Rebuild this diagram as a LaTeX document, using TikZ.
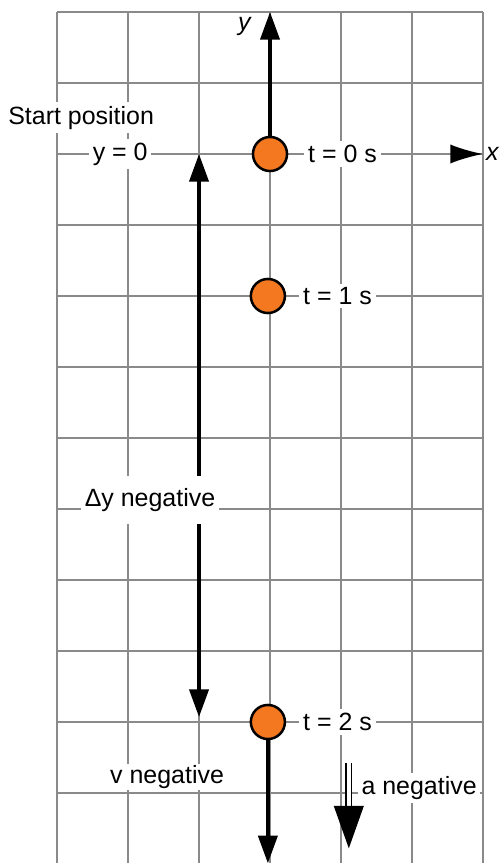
\documentclass[tikz,border=0pt]{standalone}
\usepackage{fontspec}
\setmainfont{Liberation Sans}
\usepackage{xcolor}
\usetikzlibrary{positioning,arrows.meta}
\definecolor{ballorange}{HTML}{F47820}
\definecolor{gridgray}{HTML}{8A8A8A}

\begin{document}
\begin{tikzpicture}
    [gridline/.style={draw=gridgray, line width=0.8pt},
    axis/.style={draw=black, line width=1.4pt},
    tip/.style={-{Triangle[length=0.39cm, width=0.27cm]}},
    accel/.style={draw=black, line width=0.6pt, double=white, double distance=1.6pt,
        -{Triangle[length=0.6cm, width=0.42cm]}},
    ball/.style={circle, draw=black, line width=1pt, fill=ballorange, minimum size=0.48cm, inner sep=0pt},
    lbl/.style={fill=white, inner sep=1.5pt, font=\fontsize{10}{12}\selectfont}]
    \useasboundingbox (-3.803,-9.986) rectangle (3.268,2.169);
        %% grid
    \foreach \x in {-3,...,3}
        \draw[gridline] (\x,2) -- (\x,-10);
    \foreach \y in {2,1,...,-9}
        \draw[gridline] (-3,\y) -- (3,\y);

        %% positions
    \node[ball] (B0) at (0,0) {};
    \node[ball] (B1) at (-0.03,-2) {};
    \node[ball] (B2) at (-0.03,-8) {};
    \node[lbl, right=0.22cm of B0] (T0) {t = 0 s};
    \node[lbl, right=0.18cm of B1] (T1) {t = 1 s};
    \node[lbl, right=0.18cm of B2] (T2) {t = 2 s};

        %% axes
    \coordinate (ytip) at (0,2);
    \coordinate (xtip) at (3,0);
    \draw[axis, tip] (B0) -- (ytip);
    \draw[gridline, -{Latex[black, length=0.46cm, width=0.27cm]}] (T0) -- (xtip);
    \node[lbl, fill=none, font=\fontsize{10}{12}\selectfont\itshape] (ylab) at (-0.36,1.8) {y};
    \node[lbl, fill=none, font=\fontsize{10}{12}\selectfont\itshape] (xlab) at (3.13,0) {x};

        %% start
    \node[lbl] (Y0) at (-2.11,0) {y = 0};
    \node[lbl] (SP) at (-2.66,0.51) {Start position};

        %% displacement
    \coordinate (D1) at (-1,0);
    \coordinate (D2) at (-1,-7.93);
    \draw[axis, {Triangle[length=0.39cm, width=0.27cm]}-{Triangle[length=0.39cm, width=0.27cm]}] (D1) -- (D2);
    \node[lbl, inner ysep=5pt] (DY) at (-1.69,-4.87) {Δy negative};

        %% velocity and acceleration
    \coordinate (vtip) at (-0.03,-9.99);
    \draw[axis, tip] (B2) -- (vtip);
    \node[lbl, inner ysep=0.5pt] (VN) at (-1.45,-8.77) {v negative};
    \coordinate (A1) at (1.11,-8.58);
    \coordinate (A2) at (1.11,-9.78);
    \draw[accel] (A1) -- (A2);
    \node[lbl] (AN) at (2.1,-8.93) {a negative};
\end{tikzpicture}
\end{document}
